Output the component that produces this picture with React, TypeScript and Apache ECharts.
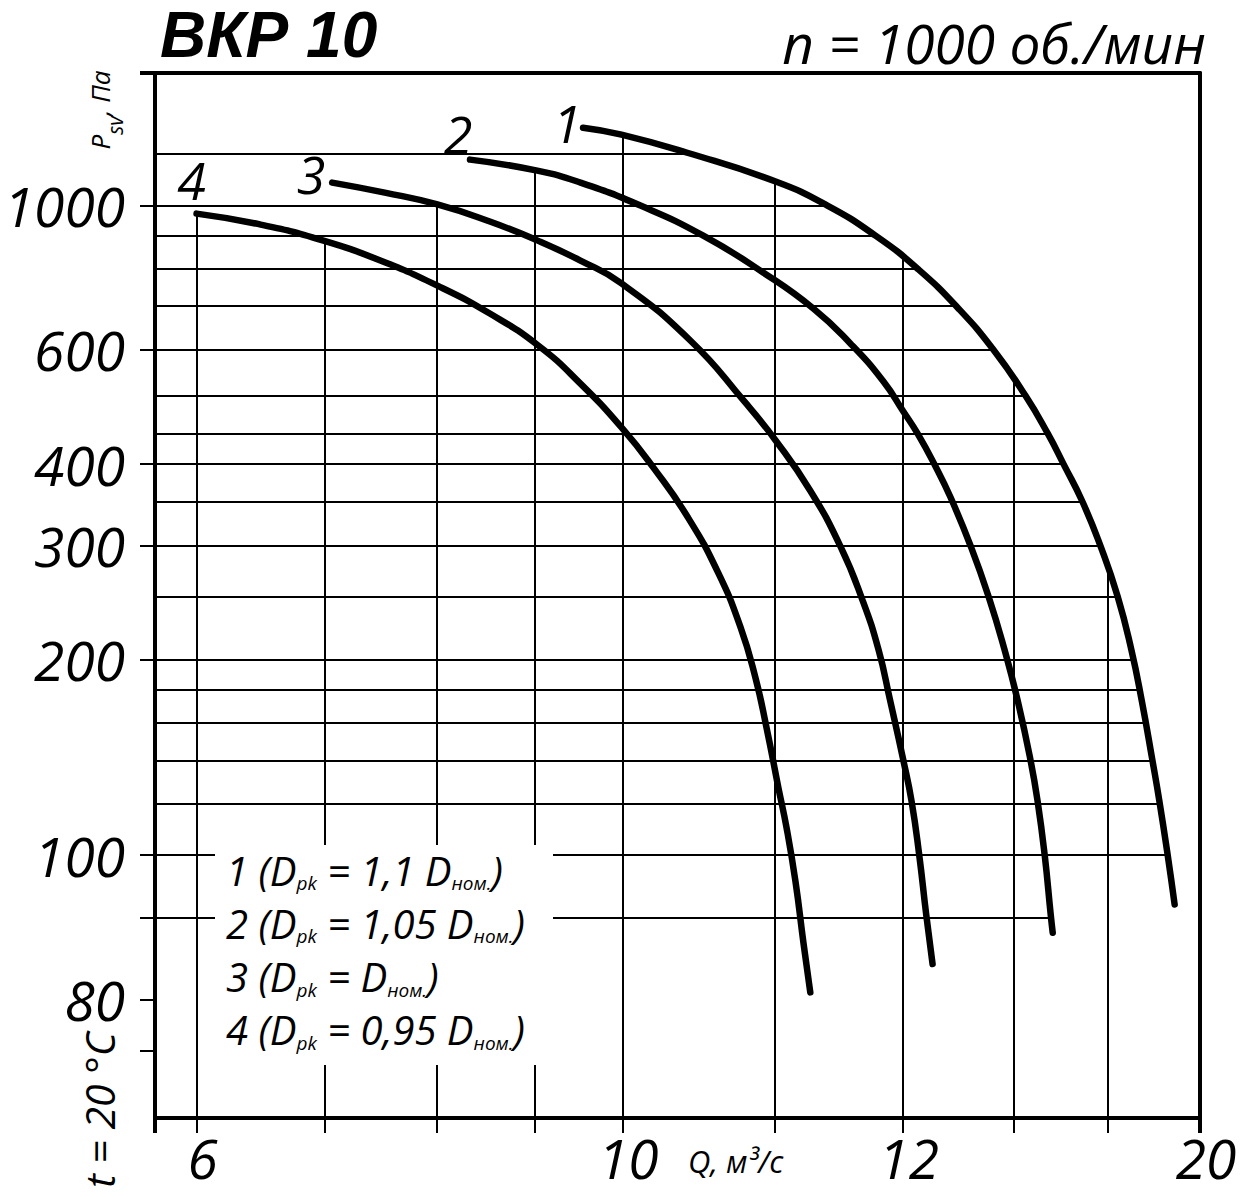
import React, { useEffect, useRef } from "react";
import * as echarts from "echarts";

const FONT = "'Open Sans', 'Noto Sans', 'DejaVu Sans', sans-serif";
const TITLE_FONT = "'Liberation Sans', Arial, sans-serif";

// Axis ranges (Q in m3/s, P in Pa), both log-scaled
const Q_MIN = 5.708;
const Q_MAX = 20;
const P_MIN = 39.4;
const P_MAX = 1600;

// Ticks / grid lines / labels
const qGridValues = [6, 7, 8, 9, 10, 12, 14, 16, 17.9, 20];
const qLabelValues = [6, 10, 14, 20];
const qLabelTexts = ["6", "10", "12", "20"];

const pGridValues = [1200, 1000, 900, 800, 700, 600, 510, 445, 400, 350, 300, 250, 200, 180, 160, 140, 120, 100, 80];
const pTickValues = [1000, 600, 400, 300, 200, 100, 80, 60, 50];
const pLabelValues = [1000, 600, 400, 300, 200, 100, 60];
const pLabelTexts = ["1000", "600", "400", "300", "200", "100", "80"];

// Curves
const curve1Q = [9.54, 9.99, 10.81, 12.02, 12.79, 13.55, 14.27, 14.97, 15.61, 16.22, 16.66, 16.98, 17.37, 17.75, 18.12, 18.42, 18.65, 18.89, 19.05, 19.24, 19.4];
const curve1P = [1318, 1286, 1206, 1089, 1000, 899, 797, 694, 600, 510, 446, 400, 350, 299, 250, 207, 173, 140, 121, 100, 84];

const curve2Q = [8.33, 9.03, 9.51, 10.22, 11.02, 11.84, 12.58, 13.15, 13.68, 14.01, 14.25, 14.56, 14.83, 15.19, 15.52, 15.82, 16.07, 16.32, 16.46, 16.6, 16.72, 16.76];
const curve2P = [1177, 1132, 1085, 1000, 899, 789, 694, 613, 536, 482, 446, 397, 355, 299, 250, 207, 173, 140, 121, 100, 81, 76];

const curve3Q = [7.06, 7.52, 8.01, 8.53, 9.03, 9.51, 9.99, 10.85, 11.58, 12.02, 12.53, 12.99, 13.34, 13.6, 13.79, 14.01, 14.15, 14.28, 14.4, 14.51];
const curve3P = [1085, 1047, 1004, 945, 884, 823, 759, 620, 499, 435, 364, 299, 247, 207, 173, 140, 121, 100, 81, 68];

const curve4Q = [6.0, 6.48, 6.98, 7.48, 8.01, 8.53, 9.04, 9.51, 10.0, 10.38, 10.82, 11.22, 11.52, 11.73, 11.89, 12.06, 12.18, 12.31, 12.43, 12.53];
const curve4P = [972, 935, 884, 823, 753, 682, 609, 532, 454, 395, 331, 272, 225, 188, 157, 127, 110, 91, 73, 61.5];

const curveNames = ["1", "2", "3", "4"];
const legendCoefs = ["1,1 ", "1,05 ", "", "0,95 "];

const L = (v: number) => Math.log10(v);

type Curve = { name: string; q: number[]; p: number[] };

function crossAtP(c: Curve, target: number): number | null {
  for (let i = 0; i < c.p.length - 1; i++) {
    const p0 = c.p[i], p1 = c.p[i + 1];
    if (target <= p0 && target >= p1) {
      const t = (L(target) - L(p0)) / (L(p1) - L(p0));
      return L(c.q[i]) + t * (L(c.q[i + 1]) - L(c.q[i]));
    }
  }
  return null;
}

function crossAtQ(c: Curve, target: number): number | null {
  for (let i = 0; i < c.q.length - 1; i++) {
    const q0 = c.q[i], q1 = c.q[i + 1];
    if (target >= q0 && target <= q1) {
      const t = (L(target) - L(q0)) / (L(q1) - L(q0));
      return L(c.p[i]) + t * (L(c.p[i + 1]) - L(c.p[i]));
    }
  }
  return null;
}

function buildOption() {
  const curves: Curve[] = [
    { name: curveNames[0], q: curve1Q, p: curve1P },
    { name: curveNames[1], q: curve2Q, p: curve2P },
    { name: curveNames[2], q: curve3Q, p: curve3P },
    { name: curveNames[3], q: curve4Q, p: curve4P },
  ];
  const labelOffsets = [[-16, -5], [-12, -26], [-21, -9], [-5, -34]];

  const segments: number[][][] = [];
  pGridValues.forEach((pv) => {
    const ends = curves.map((c) => crossAtP(c, pv)).filter((v) => v !== null) as number[];
    if (!ends.length) return;
    segments.push([[L(Q_MIN), L(pv)], [Math.max(...ends), L(pv)]]);
  });
  qGridValues.forEach((qv) => {
    const tops = curves.map((c) => crossAtQ(c, qv)).filter((v) => v !== null) as number[];
    if (!tops.length) return;
    segments.push([[L(qv), L(P_MIN)], [L(qv), Math.max(...tops)]]);
  });

  const lookup = (vals: number[], texts: string[]) => (v: number) => {
    const i = vals.findIndex((x) => Math.abs(L(x) - v) < 1e-6);
    return i >= 0 ? texts[i] : "";
  };

  const labelFont = { fontSize: 55, fontStyle: "italic", fontFamily: FONT, color: "#000" };

  const subRich = (main: number, sub: number, drop: number) => ({
    n: { fontSize: main, fontStyle: "italic", fontFamily: FONT, fill: "#000", verticalAlign: "middle" },
    s: { fontSize: sub, fontStyle: "italic", fontFamily: FONT, fill: "#000", verticalAlign: "middle", padding: [drop, 0, 0, 0] },
  });

  const legendTexts = curveNames.map((n, i) => ({
    type: "text",
    x: 226,
    y: 870 + 53.3 * i,
    z: 51,
    style: {
      text: `{n|${n} (D}{s|pk}{n| = ${legendCoefs[i]}D}{s|ном.}{n|)}`,
      rich: subRich(40, 19, 26),
      align: "left",
      verticalAlign: "middle",
    },
  }));

  return {
    animation: false,
    backgroundColor: "#fff",
    grid: { left: 155, top: 73, width: 1045, height: 1045, containLabel: false, outerBoundsMode: "none" },
    xAxis: [
      {
        type: "value",
        min: L(Q_MIN),
        max: L(Q_MAX),
        position: "bottom",
        axisLine: { show: true, onZero: false, lineStyle: { color: "#000", width: 4 } },
        axisTick: { show: true, inside: false, length: 15, customValues: qGridValues.map(L), lineStyle: { color: "#000", width: 2 } },
        axisLabel: { show: true, customValues: qLabelValues.map(L), formatter: lookup(qLabelValues, qLabelTexts), margin: 12, padding: [0, 0, 0, 12], ...labelFont },
        splitLine: { show: false },
      },
      {
        type: "value",
        min: L(Q_MIN),
        max: L(Q_MAX),
        position: "bottom",
        axisLine: { show: false },
        axisTick: { show: true, inside: false, length: 15, customValues: [L(Q_MIN), L(Q_MAX)], lineStyle: { color: "#000", width: 4 } },
        axisLabel: { show: false },
        splitLine: { show: false },
      },
      {
        type: "value",
        min: L(Q_MIN),
        max: L(Q_MAX),
        position: "top",
        axisLine: { show: true, onZero: false, lineStyle: { color: "#000", width: 4 } },
        axisTick: { show: false },
        axisLabel: { show: false },
        splitLine: { show: false },
      },
    ],
    yAxis: [
      {
        type: "value",
        min: L(P_MIN),
        max: L(P_MAX),
        position: "left",
        axisLine: { show: true, onZero: false, lineStyle: { color: "#000", width: 4 } },
        axisTick: { show: true, inside: false, length: 15, customValues: pTickValues.map(L), lineStyle: { color: "#000", width: 2 } },
        axisLabel: { show: true, customValues: pLabelValues.map(L), formatter: lookup(pLabelValues, pLabelTexts), margin: 30, padding: [0, 0, 15, 0], ...labelFont },
        splitLine: { show: false },
      },
      {
        type: "value",
        min: L(P_MIN),
        max: L(P_MAX),
        position: "left",
        axisLine: { show: false },
        axisTick: { show: true, inside: false, length: 15, customValues: [L(P_MAX)], lineStyle: { color: "#000", width: 4 } },
        axisLabel: { show: false },
        splitLine: { show: false },
      },
      {
        type: "value",
        min: L(P_MIN),
        max: L(P_MAX),
        position: "right",
        axisLine: { show: true, onZero: false, lineStyle: { color: "#000", width: 4 } },
        axisTick: { show: false },
        axisLabel: { show: false },
        splitLine: { show: false },
      },
    ],
    series: [
      {
        type: "lines",
        coordinateSystem: "cartesian2d",
        xAxisIndex: 0,
        yAxisIndex: 0,
        polyline: false,
        silent: true,
        z: 1,
        lineStyle: { color: "#000", width: 2, opacity: 1, curveness: 0 },
        data: segments.map((coords) => ({ coords })),
      },
      ...curves.map((c, i) => ({
        type: "line",
        name: c.name,
        xAxisIndex: 0,
        yAxisIndex: 0,
        z: 3,
        silent: true,
        smooth: 0.5,
        symbol: "circle",
        symbolSize: 2,
        showSymbol: true,
        clip: false,
        lineStyle: { color: "#000", width: 6.5, cap: "round", join: "round" },
        itemStyle: { color: "#000" },
        data: c.q.map((qv, j) =>
          j === 0
            ? {
                value: [L(qv), L(c.p[j])],
                label: {
                  show: true,
                  formatter: c.name,
                  position: "inside",
                  offset: labelOffsets[i],
                  fontSize: 52,
                  fontStyle: "italic",
                  fontFamily: FONT,
                  color: "#000",
                },
              }
            : [L(qv), L(c.p[j])]
        ),
      })),
    ],
    graphic: [
      {
        type: "text",
        x: 160,
        y: 35,
        z: 51,
        style: { text: "ВКР 10", fontSize: 64, fontWeight: "bold", fontStyle: "italic", fontFamily: TITLE_FONT, fill: "#000", align: "left", verticalAlign: "middle" },
      },
      {
        type: "text",
        x: 1206,
        y: 42,
        z: 51,
        style: { text: "n = 1000 об./мин", fontSize: 55, fontStyle: "italic", fontFamily: FONT, fill: "#000", align: "right", verticalAlign: "middle" },
      },
      {
        type: "text",
        x: 688,
        y: 1161,
        z: 51,
        style: { text: "Q, м³/с", fontSize: 31, fontStyle: "italic", fontFamily: FONT, fill: "#000", align: "left", verticalAlign: "middle" },
      },
      {
        type: "text",
        x: 100,
        y: 110,
        rotation: Math.PI / 2,
        z: 51,
        style: { text: "{n|P}{s|sv}{n|, Па}", rich: subRich(26, 21, 29), align: "center", verticalAlign: "middle" },
      },
      {
        type: "text",
        x: 99,
        y: 1110,
        rotation: Math.PI / 2,
        z: 51,
        style: { text: "t = 20 °C", fontSize: 41, fontStyle: "italic", fontFamily: FONT, fill: "#000", align: "center", verticalAlign: "middle" },
      },
      {
        type: "rect",
        z: 50,
        shape: { x: 215, y: 845, width: 338, height: 220 },
        style: { fill: "#fff" },
      },
      ...legendTexts,
    ],
  };
}

export default function App() {
  const ref = useRef<HTMLDivElement>(null);
  useEffect(() => {
    if (!ref.current) return;
    const chart = echarts.init(ref.current, null, { renderer: "svg" });
    chart.setOption(buildOption() as any);
    return () => {
      chart.dispose();
    };
  }, []);
  return (
    <div
      ref={ref}
      style={{ position: "fixed", left: 0, top: 0, width: 1249, height: 1197, background: "#fff" }}
    />
  );
}
